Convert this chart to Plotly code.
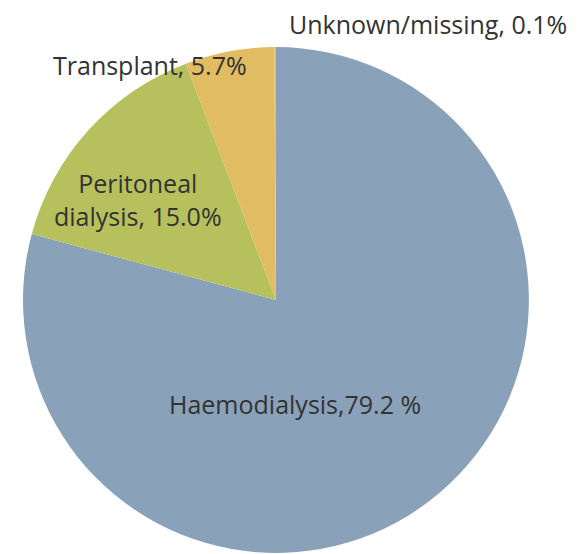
import plotly.graph_objects as go

labels = ["Haemodialysis", "Peritoneal dialysis", "Transplant", "Unknown/missing"]
values = [79.2, 15.0, 5.7, 0.1]
colors = ["#8AA1BA", "#B6C15E", "#E2BC62", "#E2BC62"]

label_texts = ["Haemodialysis,79.2 %", "Peritoneal<br>dialysis, 15.0%", "Transplant, 5.7%", "Unknown/missing, 0.1%"]
# label centres in screen pixels (x, y from top)
label_pos = [(295, 404), (138, 199), (150, 65), (428, 24)]

W, H = 582, 554
OFF = 8  # page body margin

fig = go.Figure(go.Pie(
    labels=labels,
    values=values,
    sort=False,
    direction="clockwise",
    rotation=0,
    marker=dict(colors=colors, line=dict(width=0)),
    textinfo="none",
    hoverinfo="label+percent",
    domain=dict(x=[0.0258, 0.895], y=[0.0163, 0.9296]),
    showlegend=False,
))

for t, (px_, py_) in zip(label_texts, label_pos):
    fig.add_annotation(
        text=t, x=(px_ - OFF) / W, y=1 - (py_ - OFF) / H, xref="paper", yref="paper",
        showarrow=False, xanchor="center", yanchor="middle", borderpad=0,
        font=dict(family="Open Sans", size=25, color="#333333"),
    )

fig.update_layout(
    width=W, height=H,
    margin=dict(l=0, r=0, t=0, b=0),
    paper_bgcolor="white",
    plot_bgcolor="white",
)

fig.write_html("out.html")
